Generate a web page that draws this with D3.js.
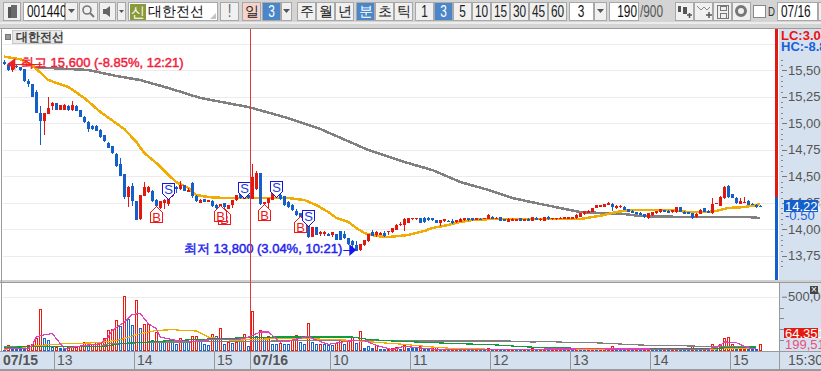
<!DOCTYPE html>
<html><head><meta charset="utf-8">
<style>html,body{margin:0;padding:0;background:#fff;overflow:hidden}svg{display:block}text{font-family:"Liberation Sans",Arial,sans-serif}</style>
<script src="https://cdn.jsdelivr.net/npm/d3@7"></script></head><body>
<svg id="c" width="821" height="371"></svg>
<script>
// ---- candle data (KRW), one entry per 3-minute bar
const opens=[15580,15550,15500,15545,15530,15510,15400,15375,15300,15100,15025,15090,15160,15190,15130,15130,15165,15125,15165,15125,
15060,15015,14975,14975,14935,14890,14810,14785,14715,14620,14520,14305,14410,14270,14095,14315,14355,14365,14275,14205,
14245,14240,14310,14400,14380,14415,14350,14435,14310,14245,14285,14260,14265,14230,14205,14245,14195,14230,14275,14330,
14290,14325,14290,14380,14530,14240,14245,14280,14355,14325,14310,14260,14230,14175,14150,14100,14040,13930,14018,13960,
13955,13960,13945,13955,13980,13960,13915,13885,13850,13805,13850,13885,13975,13945,13950,13965,13970,13970,13995,14045,
14040,14060,14095,14095,14110,14105,14110,14105,14085,14055,14080,14082,14080,14065,14070,14085,14105,14105,14090,14100,
14100,14097,14120,14100,14113,14097,14072,14082,14082,14102,14080,14100,14080,14110,14085,14082,14118,14095,14095,14098,
14098,14098,14098,14104,14120,14140,14158,14167,14205,14215,14214,14229,14240,14205,14210,14214,14192,14176,14160,14157,
14142,14104,14135,14151,14160,14182,14176,14167,14160,14207,14167,14160,14151,14113,14145,14198,14176,14151,14240,14223,
14292,14412,14333,14292,14240,14257,14270,14242,14230,14224];
const highs=[15600,15570,15560,15560,15535,15510,15415,15375,15310,15160,15100,15250,15200,15190,15170,15180,15170,15215,15170,15125,
15070,15025,14985,14985,14945,14890,14825,14790,14720,14670,14520,14405,14435,14270,14325,14450,14405,14375,14285,14270,
14285,14290,14370,14410,14455,14420,14390,14445,14320,14285,14290,14280,14275,14240,14240,14250,14230,14280,14325,14335,
14330,14330,14620,14550,14535,14260,14300,14340,14360,14340,14310,14270,14235,14190,14155,14110,14050,14020,14020,13985,
13985,13965,13975,13960,13985,13985,13920,13900,13890,13865,13900,13955,13990,13985,13970,13980,13985,14010,14050,14065,
14105,14110,14110,14110,14110,14120,14115,14110,14090,14090,14095,14085,14095,14085,14105,14110,14110,14105,14110,14105,
14110,14140,14125,14115,14115,14100,14105,14105,14100,14105,14100,14105,14115,14115,14105,14115,14122,14110,14108,14112,
14112,14112,14112,14140,14155,14175,14178,14205,14232,14232,14237,14262,14245,14230,14225,14216,14195,14180,14165,14160,
14145,14155,14160,14175,14190,14185,14180,14185,14215,14215,14170,14165,14155,14150,14190,14200,14180,14300,14250,14312,
14410,14420,14335,14308,14292,14302,14275,14245,14236,14226];
const lows=[15550,15490,15480,15525,15490,15390,15345,15245,15095,14800,14890,15090,15130,15130,15125,15125,15115,15115,15115,15055,
15000,14915,14940,14925,14860,14825,14765,14715,14590,14500,14290,14215,14220,14085,14085,14310,14340,14260,14215,14195,
14195,14220,14305,14340,14370,14360,14350,14300,14260,14245,14255,14260,14215,14190,14200,14205,14190,14205,14270,14290,
14285,14290,14285,14375,14225,14235,14190,14275,14305,14280,14220,14205,14175,14130,14100,14060,13920,13925,13945,13940,
13935,13935,13925,13895,13895,13910,13855,13805,13800,13800,13845,13880,13935,13925,13945,13925,13945,13965,13990,14035,
13985,14055,14090,14090,14060,14060,14080,14080,14055,14030,14070,14070,14050,14060,14065,14080,14080,14080,14085,14095,
14095,14095,14095,14095,14080,14080,14070,14080,14080,14075,14078,14080,14075,14085,14080,14078,14092,14090,14090,14094,
14094,14094,14094,14100,14115,14135,14155,14160,14200,14212,14210,14225,14176,14190,14205,14180,14165,14150,14140,14135,
14104,14098,14130,14148,14158,14165,14155,14150,14158,14160,14142,14140,14100,14105,14142,14165,14150,14148,14236,14220,
14290,14300,14298,14238,14236,14245,14228,14235,14205,14218];
const closes=[15560,15500,15550,15530,15500,15400,15370,15250,15100,15020,15095,15140,15190,15130,15170,15175,15125,15170,15120,15060,
15010,14950,14945,14930,14875,14835,14770,14720,14600,14505,14305,14400,14270,14090,14325,14400,14400,14265,14220,14265,
14275,14285,14360,14380,14415,14365,14375,14310,14265,14280,14260,14275,14220,14200,14240,14210,14230,14275,14325,14295,
14325,14295,14495,14530,14240,14255,14295,14340,14310,14290,14230,14210,14180,14135,14105,14070,13925,14018,13950,13975,
13975,13940,13970,13900,13900,13915,13860,13855,13800,13860,13895,13955,13940,13975,13965,13940,13980,14010,14045,14050,
14095,14110,14110,14110,14062,14065,14085,14085,14060,14085,14095,14072,14062,14085,14100,14110,14085,14085,14105,14097,
14105,14135,14097,14110,14082,14082,14100,14100,14097,14078,14097,14082,14112,14088,14100,14112,14095,14108,14106,14110,
14112,14112,14112,14135,14150,14172,14176,14205,14230,14230,14235,14245,14207,14220,14223,14182,14167,14151,14142,14135,
14119,14151,14160,14172,14188,14167,14157,14182,14207,14160,14145,14142,14104,14145,14182,14167,14151,14240,14245,14308,
14402,14302,14300,14245,14270,14262,14230,14237,14214,14220];
// ---- volume (thousand shares) and bar direction R/B
const volumes=[12,58,21,21,21,30,58,67,123,390,123,104,37,37,27,21,37,37,37,43,
86,86,67,83,86,123,190,205,288,227,503,298,236,467,215,252,245,104,175,83,
104,104,104,67,123,83,83,135,135,92,61,52,160,135,215,61,83,74,83,92,
160,43,365,135,190,123,135,61,61,74,61,67,104,150,80,67,261,80,67,67,
67,55,55,74,104,67,92,129,74,187,30,46,24,52,21,15,27,27,40,18,
52,27,24,24,43,27,18,27,37,15,15,12,18,21,9,9,10,10,12,10,
10,30,10,9,10,9,12,10,10,10,12,10,24,10,10,21,10,12,10,12,
10,10,10,20,12,27,27,10,10,10,12,27,49,15,12,12,12,10,12,10,
12,30,12,10,12,10,10,12,12,10,12,12,43,12,10,12,10,67,30,67,
123,129,61,24,24,21,21,18,18,67];
const volumeDir="BRBBBBRRRR"+"BBBRBBRRRR"+"RBRRRRRRRB"+"RBBRBRRBRB"+"BRBBRBBRRB"+"BBRBRBRBRB"+"RBRBRBRBBR"+"BBRRBBRBBR"+
"BBBRRBRRBR"+"BBBRBBRRRB"+"RBBBRBBRRB"+"RBRRBRBBRB"+"BRBRBBRRBB"+"RBRBRRBRRR"+"BRBRBBRRBR"+"RRRBBBRBRB"+"RRBBBRBRRB"+"BBRBBRBRBR"+"RRRBRRBBBR";
// ---- moving averages: bar index and value
const goldBars=[0,4,7,11,16,20,24,30,33,35,38,41,43,46,48,51,55,61,64,71,75,78,81,83,86,88,90,93,96,101,105,107,111,114,117,122,128,134,144,147,150,153,157,167,171,176,178,181,185,188,189];
const goldValues=[15628,15604,15550,15408,15342,15239,15107,14946,14824,14720,14625,14512,14446,14390,14323,14304,14295,14295,14295,14295,14276,14229,14163,14107,14069,14012,13965,13937,13927,13946,13984,14012,14041,14069,14088,14097,14097,14097,14097,14116,14135,14163,14182,14182,14163,14163,14173,14201,14210,14229,14239];
const greyBars=[7,11,21,28,34,41,49,57,61,70,79,91,100,107,114,121,127,134,139,144,149,155,159,170,186,189];
const greyValues=[15531,15522,15503,15446,15408,15333,15239,15182,15154,15059,14946,14748,14635,14559,14446,14371,14295,14239,14201,14163,14154,14144,14125,14116,14116,14106];
// volume averages
const pinkBars=[0,6,7,8,10,12,13,15,20,24,26,27,30,32,34,36,38,39,42,46,49,52,57,60,62,64,66,69,71,76,77,81,86,90,93,97,100,106,108,113,125,146,176,179,180,183,185,187,188];
const pinkValues=[21,25,52,129,150,160,114,21,52,67,129,190,267,338,344,252,206,129,104,83,98,104,104,114,144,175,175,83,92,135,114,61,92,98,52,12,43,21,15,15,15,20,15,52,83,77,43,21,20];
const vGoldBars=[0,9,15,24,29,34,38,42,48,51,57,68,75,81,87,93,100,107,113,125,176,182,188];
const vGoldValues=[15,52,67,77,104,160,190,196,184,129,98,114,114,107,98,80,61,37,21,15,15,27,24];
const vGreenBars=[0,8,25,29,40,51,61,68,87,91,97,107,113,122,131,136,151,176,183,188];
const vGreenValues=[31,43,43,67,92,110,123,129,129,107,92,77,68,58,37,30,21,21,34,37];
const vGreyBars=[0,24,26,32,41,57,68,91,100,126,132,136,141,149,159,172,177,188];
const vGreyValues=[43,43,67,74,83,85,92,98,92,92,83,86,80,74,55,46,37,43];
// ---- axes and labels
const priceTicks=[13750,14000,14250,14500,14750,15000,15250,15500];
const priceMinor=d3.range(13650,15650,50);
const volumeTicks=[500];
const volumeMinor=[100,200,300,400];
const timeBars=[13,33,53,62,82,102,122,142,162,182];
const timeLabels=["13","14","15","07/16","10","11","12","13","14","15"];
const signalBars=[38,41,55,54,60,65,68,74,76];
const signalPrices=[14220,14286,14201,14230,14295,14239,14305,14125,14031];
const signalTypes=["B","S","B","B","S","B","S","B","S"];
const stockName="대한전선";

const RED="#e2170f",BLUE="#155fcb",GOLD="#f0ac00",GREY="#808080",PANEL="#d6e1ef",EDGE="#9a9a9a";
const svg=d3.select("#c");
const x=d3.scaleLinear().domain([0,189]).range([4.3,760.3]);
const y=d3.scaleLinear().domain([13750,15500]).range([255.8,70.3]);
const yv=d3.scaleLinear().domain([0,500]).range([351,296.7]);
const px=v=>Math.round(v);
const R=(g,a,b,w,h,f,s)=>g.append("rect").attr("x",a).attr("y",b).attr("width",w).attr("height",h).attr("fill",f).attr("stroke",s||"none").attr("shape-rendering","crispEdges");
const T=(g,a,b,t,fs,f,w,an)=>g.append("text").attr("x",a).attr("y",b).text(t).attr("font-size",fs).attr("fill",f).attr("font-weight",w||"normal").attr("text-anchor",an||"start");
// condensed toolbar digits: real text squeezed to the narrow width of the reference font
const TN=(g,a,b,t,fs,f,an)=>{const e=T(g,a,b,t,fs,f,"normal",an);const l=e.node().getComputedTextLength();return e.attr("textLength",l*.74).attr("lengthAdjust","spacingAndGlyphs");};

const defs=svg.append("defs");
defs.append("clipPath").attr("id","main").append("rect").attr("x",3).attr("y",29).attr("width",772).attr("height",251);
defs.append("clipPath").attr("id","vol").append("rect").attr("x",3).attr("y",284).attr("width",776).attr("height",67);

// ---- panels
R(svg,0,0,821,371,"#fff");
R(svg,779,28,42,324,PANEL);
R(svg,0,352,821,19,PANEL);
R(svg,0,0,821,28,"#d4d4d4");
R(svg,0,22,821,2,"#ececec");
R(svg,0,28,821,1,EDGE);
R(svg,0,280,821,3,"#cfcfcf");
R(svg,0,282,821,1,EDGE);
R(svg,0,351,821,1,EDGE);
R(svg,0,369,821,2,"#9a9a9a");
R(svg,1,28,1,323,EDGE);
R(svg,779,282,1,88,EDGE);

// ---- toolbar
const tb=svg.append("g");
function btn(a,w,label,bg,col,fs){
  R(tb,a+.5,2.5,w-1,18,bg||"#f0f0f0","#a8a8a8");
  if(label){
    if(/[가-힣]/.test(label)) T(tb,a+w/2,16,label,14,col||"#222","normal","middle").attr("font-family","'Noto Sans CJK KR'");
    else TN(tb,a+w/2,17,label,fs||16,col||"#222","middle");
  }
}
btn(3,18,"");R(tb,8,7,3,11,"#555");R(tb,11,5,6,13,"#6a6a6a");
R(tb,23.5,2.5,41,18,"#fff","#a8a8a8");TN(tb,27,17,"001440",16,"#111");
btn(65,13,"");tb.append("path").attr("d","M68 9h7l-3.5 4z").attr("fill","#555");
btn(79,19,"");tb.append("circle").attr("cx",87).attr("cy",10).attr("r",4).attr("fill","none").attr("stroke","#777").attr("stroke-width",1.6);tb.append("path").attr("d","M90 13l4 4").attr("stroke","#777").attr("stroke-width",2);
btn(99,17,"");tb.append("path").attr("d","M103 9h3l4-3v11l-4-3h-3z").attr("fill","#666");
btn(117,9,"");tb.append("path").attr("d","M119 10h5l-2.5 3z").attr("fill","#555");
R(tb,128.5,2.5,89,18,"#fff","#a8a8a8");R(tb,130,4,16,16,"#8a9a3a");
T(tb,138,17,"신",14,"#fff","normal","middle").attr("font-family","'Noto Sans CJK KR'");
T(tb,148,16,stockName,14,"#111").attr("font-family","'Noto Sans CJK KR'");
tb.append("path").attr("d","M216 13v6h-6z").attr("fill","#c4c4c4");
btn(220,19,"!","#f0f0f0","#666",18);
btn(242,19,"일","#f6d4cc");btn(262,19,"3","#4a86c8","#fff");
btn(281,11,"");tb.append("path").attr("d","M283 9h7l-3.5 4z").attr("fill","#555");
[["주",297],["월",316],["년",335]].forEach(d=>btn(d[1],19,d[0]));
btn(356,19,"분","#4a86c8","#fff");btn(375,19,"초");btn(394,19,"틱");
["1","3","5","10","15","30","45","60"].forEach((d,i)=>btn(415+i*19,19,d,d==="3"?"#4a86c8":"#f0f0f0",d==="3"?"#fff":"#222"));
R(tb,569.5,2.5,24,18,"#fff","#a8a8a8");TN(tb,581,17,"3",16,"#111","middle");
btn(594,13,"");tb.append("path").attr("d","M597 9h7l-3.5 4z").attr("fill","#555");
R(tb,609.5,2.5,29,18,"#fff","#a8a8a8");TN(tb,637,17,"190",16,"#111","end");
TN(tb,640,17,"/900",16,"#555");
btn(675,19,"");R(tb,678,6,3,6,"#555");R(tb,683,7,4,7,"#555");tb.append("path").attr("d","M687 15h5M689.500 13v5").attr("stroke","#555").attr("stroke-width",1.5);
btn(694,19,"");tb.append("path").attr("d","M697 6l4 4 3-3 3 3 3-3").attr("stroke","#888").attr("fill","none");tb.append("path").attr("d","M706 15h6M709 12v6").attr("stroke","#555").attr("stroke-width",1.5);
btn(713,19,"");R(tb,717.500,5.500,11,13,"none","#777");R(tb,720,6,6,4,"none","#777");R(tb,720,13,6,5,"none","#777");
btn(732,19,"");tb.append("circle").attr("cx",741).attr("cy",11).attr("r",4.500).attr("fill","none").attr("stroke","#777").attr("stroke-width",3);
R(tb,753.5,5.5,12,12,"#fff","#888");TN(tb,768,16,"D",13,"#333");
R(tb,777.5,2.5,40,18,"#fff","#a8a8a8");TN(tb,781,17,"07/16",16,"#111");
btn(818,8,"");

// ---- grid
const gridG=svg.append("g").attr("clip-path","url(#main)");
gridG.selectAll("line").data(d3.range(13750,15751,250)).join("line")
 .attr("x1",3).attr("x2",775).attr("y1",d=>px(y(d))+.5).attr("y2",d=>px(y(d))+.5).attr("stroke","#ececec");
svg.append("line").attr("x1",3).attr("x2",779).attr("y1",px(yv(500))+.5).attr("y2",px(yv(500))+.5).attr("stroke","#ececec");

// title
R(svg,5,34,5,5,"#999","#777");
R(svg,12.5,30.5,49,13,"#e8e8e8","#c8c8c8");
T(svg,16,41,stockName,12,"#444","bold").attr("font-family","'Noto Sans CJK KR'");

// ---- price lines
const plot=svg.append("g").attr("clip-path","url(#main)");
const priceLine=d3.line().x(d=>x(d[0])).y(d=>y(d[1]));
plot.append("path").attr("d",priceLine(d3.zip(greyBars,greyValues))).attr("fill","none").attr("stroke",GREY).attr("stroke-width",2.5).attr("shape-rendering","crispEdges");
plot.append("path").attr("d",priceLine(d3.zip(goldBars,goldValues))).attr("fill","none").attr("stroke",GOLD).attr("stroke-width",2.5).attr("shape-rendering","crispEdges");

// ---- candles
const idx=d3.range(opens.length);
plot.selectAll(".w").data(idx).join("rect").attr("class","w")
 .attr("x",i=>px(x(i))).attr("width",1)
 .attr("y",i=>px(y(highs[i]))).attr("height",i=>Math.max(1,px(y(lows[i]))-px(y(highs[i]))))
 .attr("fill",i=>closes[i]>=opens[i]?RED:BLUE).attr("shape-rendering","crispEdges");
plot.selectAll(".b").data(idx).join("rect").attr("class","b")
 .attr("x",i=>px(x(i))-1).attr("width",3)
 .attr("y",i=>px(y(Math.max(opens[i],closes[i])))).attr("height",i=>Math.max(1,px(y(Math.min(opens[i],closes[i])))-px(y(Math.max(opens[i],closes[i])))))
 .attr("fill",i=>closes[i]>=opens[i]?RED:BLUE).attr("shape-rendering","crispEdges");

// ---- crosshair
const cross=timeBars[3];
svg.append("line").attr("x1",px(x(cross))-1.5).attr("x2",px(x(cross))-1.5).attr("y1",29).attr("y2",352).attr("stroke","#e23a3a");

// ---- signals
const sig=plot.selectAll(".s").data(signalBars.map((b,i)=>({b,p:signalPrices[i],t:signalTypes[i]}))).join("g").attr("class","s")
 .attr("transform",d=>`translate(${px(x(d.b))+.5},${px(y(d.p))+.5})`);
sig.append("path").attr("d",d=>d.t==="S"?"M-6 -16H6V-6L0 0L-6 -6Z":"M-6 16H6V6L0 0L-6 6Z").attr("fill","#fff").attr("stroke",d=>d.t==="S"?"#1414e6":"#f01818").attr("shape-rendering","crispEdges");
sig.append("text").text(d=>d.t).attr("text-anchor","middle").attr("y",d=>d.t==="S"?-6:15).attr("font-size",13).attr("fill",d=>d.t==="S"?"#1a3ae0":"#f01818");

// ---- high/low notes
const hiX=x(0),hiY=y(15560);
plot.append("path").attr("d",`M${hiX+3} ${px(hiY)+.5}h35`).attr("stroke","#f02020").attr("stroke-width",1);
plot.append("path").attr("d",`M${hiX+3} ${hiY}l8 -6v12z`).attr("fill","#f02020");
const note=(a,b,t,c)=>T(plot,a,b,t,13,c,"normal").attr("font-family","'Noto Sans CJK KR'").attr("stroke",c).attr("stroke-width",.45);
note(21,67,"최고 15,600 (-8.85%, 12:21)","#f0203a");
note(184,253,"최저 13,800 (3.04%, 10:21)","#2222ee");
const loX=x(88),loY=y(13805);
plot.append("path").attr("d",`M${loX-13} ${px(loY)+.5}h10`).attr("stroke","#1414ee");
plot.append("path").attr("d",`M${loX} ${loY}l-7 -6v12z`).attr("fill","#1414ee");

// ---- volume: 3px coloured bar with a 1px white core
const vg=svg.append("g").attr("clip-path","url(#vol)");
const vData=volumes.map((v,i)=>({v,i}));
vg.selectAll(".v").data(vData).join("rect").attr("class","v")
 .attr("x",d=>px(x(d.i))-1).attr("width",3)
 .attr("y",d=>px(yv(d.v))).attr("height",d=>Math.max(2,px(yv(0))-px(yv(d.v))))
 .attr("fill",d=>volumeDir[d.i]==="R"?"#ee1a12":"#1a64d0").attr("shape-rendering","crispEdges");
vg.selectAll(".vi").data(vData.filter(d=>px(yv(0))-px(yv(d.v))>3)).join("rect").attr("class","vi")
 .attr("x",d=>px(x(d.i))).attr("width",1)
 .attr("y",d=>px(yv(d.v))+1).attr("height",d=>px(yv(0))-px(yv(d.v))-2)
 .attr("fill","#fff").attr("shape-rendering","crispEdges");
const volLine=d3.line().x(d=>x(d[0])).y(d=>yv(d[1]));
[[vGreyBars,vGreyValues,"#808080"],[vGoldBars,vGoldValues,"#f0ac00"],[vGreenBars,vGreenValues,"#109c3c"],[pinkBars,pinkValues,"#e040b8"]].forEach(s=>
 vg.append("path").attr("d",volLine(d3.zip(s[0],s[1]))).attr("fill","none").attr("stroke",s[2]).attr("stroke-width",1.2).attr("shape-rendering","crispEdges"));

// ---- side bar
R(svg,775,29,3,168,"#e21a10");
R(svg,775,197,3,83,"#155fcb");

// ---- right axis
const rg=svg.append("g");
const pa=rg.append("g").attr("transform","translate(782,0)")
 .call(d3.axisRight(y).tickValues(priceTicks).tickSize(5).tickPadding(1).tickFormat(d3.format(",")));
pa.select(".domain").remove();
pa.selectAll("line").attr("stroke","#777").attr("shape-rendering","crispEdges");
pa.selectAll("text").attr("font-size",13).attr("fill","#555").attr("font-family","Liberation Sans");
rg.selectAll(".m").data(priceMinor.filter(d=>y(d)>30&&y(d)<278&&!priceTicks.includes(d))).join("line").attr("class","m")
 .attr("x1",781).attr("x2",783).attr("y1",d=>px(y(d))+.5).attr("y2",d=>px(y(d))+.5).attr("stroke","#888");
T(rg,781,40,"LC:3.04%",13,"#f01010","bold");
T(rg,781,51,"HC:-8.85%",13,"#1a5fd8","bold");
R(rg,784,200,34,12,"#155fcb");
T(rg,785,211,"14,220",13,"#fff");
T(rg,785,220,"-0.50",13,"#1a5fd8");

const va=rg.append("g").attr("transform","translate(782,0)")
 .call(d3.axisRight(yv).tickValues(volumeTicks).tickSize(5).tickPadding(1).tickFormat(d=>"500,000"));
va.select(".domain").remove();
va.selectAll("line").attr("stroke","#777");
va.selectAll("text").attr("font-size",13).attr("fill","#555").attr("font-family","Liberation Sans");
rg.selectAll(".vm").data(volumeMinor).join("line").attr("class","vm")
 .attr("x1",780).attr("x2",784).attr("y1",d=>px(yv(d))+.5).attr("y2",d=>px(yv(d))+.5).attr("stroke","#888");
R(rg,810,286,8,8,"#444");T(rg,814,293,"×",10,"#fff","normal","middle");
R(rg,784,328,34,10,"#e21a10");T(rg,785,338,"64,351",13,"#fff");
T(rg,785,349,"199,516",13,"#e8507a");

// ---- time axis
const ta=svg.append("g");
T(ta,3,365,"07/15",14,"#555","bold");
ta.selectAll("line").data(timeBars).join("line")
 .attr("x1",d=>px(x(d))-1.5).attr("x2",d=>px(x(d))-1.5).attr("y1",352).attr("y2",369).attr("stroke","#999");
ta.selectAll(".tl").data(timeBars).join("text").attr("class","tl")
 .attr("x",d=>px(x(d))+1).attr("y",365).text((d,i)=>timeLabels[i])
 .attr("font-size",14).attr("fill","#555").attr("font-weight",(d,i)=>timeLabels[i].includes("/")?"bold":"normal");
T(ta,788,365,"15:30",14,"#555");
</script></body></html>
